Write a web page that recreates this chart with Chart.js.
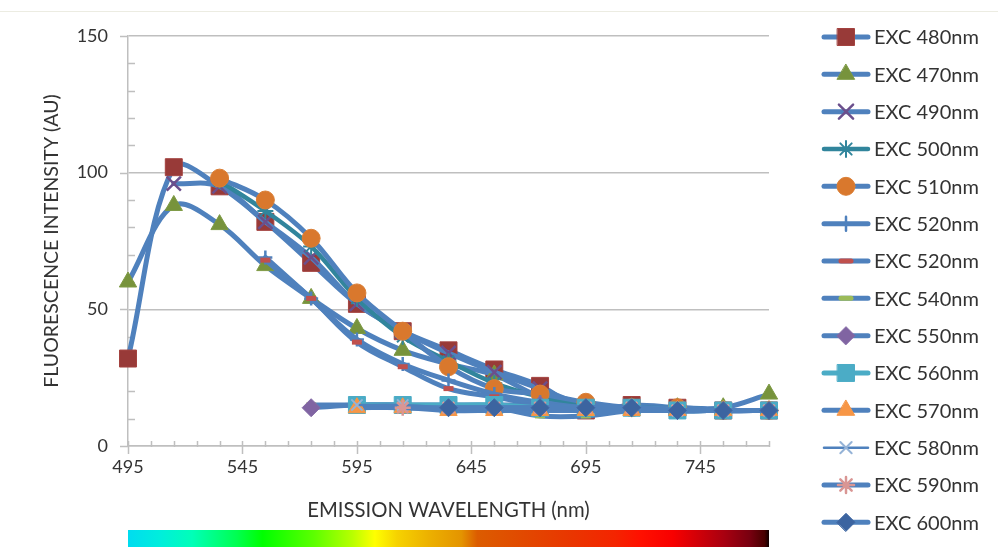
<!DOCTYPE html>
<html><head><meta charset="utf-8">
<script src="https://cdn.jsdelivr.net/npm/chart.js@4.4.1/dist/chart.umd.min.js"></script>
<style>html,body{margin:0;padding:0;background:#fff;}</style>
</head><body>
<canvas id="c" width="998" height="548"></canvas>
<script>
// ---- data ----
const emission = [495,515,535,555,575,595,615,635,655,675,695,715,735,755,775];
const exc480  = [32,102,95,82,67,52,42,35,28,22,13,15,14,13,13];
const exc470  = [60,88,81,66,54,43,35,30,26,18,14,14,14,14,19];
const exc490  = [null,96,95,82,69,52,42,34,27,21,15,14,14,13,13];
const exc500  = [null,null,97,86,73,54,40,31,23,18,15,14,14,13,13];
const exc510  = [null,null,98,90,76,56,42,29,21,19,16,14,14,13,13];
const exc520a = [null,null,null,69,54,39,30,24,19,16,14,14,13,13,13];
const exc520b = [null,null,null,68,54,38,29,21,18,15,14,14,13,13,13];
const exc540  = [null,null,null,null,15,15,15,14,14,11,11,13,13,13,13];
const exc550  = [null,null,null,null,14,15,15,15,15,15,14,14,13,13,13];
const exc560  = [null,null,null,null,null,15,15,15,15,14,14,14,13,13,13];
const exc570  = [null,null,null,null,null,14,14,13,13,13,13,13,13,13,13];
const exc580  = [null,null,null,null,null,15,15,14,14,14,14,14,13,13,13];
const exc590  = [null,null,null,null,null,null,14,14,14,14,14,14,13,13,13];
const exc600  = [null,null,null,null,null,null,null,14,14,14,14,14,13,13,13];
const seriesLabels = ['EXC 480nm','EXC 470nm','EXC 490nm','EXC 500nm','EXC 510nm','EXC 520nm','EXC 520nm',
  'EXC 540nm','EXC 550nm','EXC 560nm','EXC 570nm','EXC 580nm','EXC 590nm','EXC 600nm'];
const seriesValues = [exc480,exc470,exc490,exc500,exc510,exc520a,exc520b,exc540,exc550,exc560,exc570,exc580,exc590,exc600];
const xTickLabels = [495,545,595,645,695,745];
const yTickLabels = [0,50,100,150];
const xTitle = 'EMISSION WAVELENGTH (nm)';
const yTitle = 'FLUORESCENCE INTENSITY (AU)';

// ---- styles ----
const BLUE = '#4F81BD';
const styles = [
  {line:BLUE, lw:5, ps:'rect', r:12, fill:'#983A38', stroke:'#A3423F', bw:1},
  {line:BLUE, lw:5, ps:'triangle', r:10, fill:'#77933C', stroke:'#7E9A44', bw:1},
  {line:BLUE, lw:5, ps:'crossRot', r:10, fill:'#6B4F8C', stroke:'#6B4F8C', bw:2.5},
  {line:'#31859C', lw:4.5, ps:'star', r:8, fill:'#31859C', stroke:'#31859C', bw:2},
  {line:BLUE, lw:5, ps:'circle', r:9, fill:'#D9782D', stroke:'#DB7F36', bw:1},
  {line:BLUE, lw:5, ps:'cross', r:7, fill:BLUE, stroke:BLUE, bw:2.5},
  {line:BLUE, lw:5, ps:'line', r:5, fill:'#C0504D', stroke:'#C0504D', bw:5},
  {line:BLUE, lw:5, ps:'line', r:5, fill:'#9BBB59', stroke:'#9BBB59', bw:5},
  {line:BLUE, lw:5, ps:'rectRot', r:9, fill:'#8064A2', stroke:'#8469A6', bw:1},
  {line:'#4BACC6', lw:5, ps:'rect', r:12, fill:'#4BACC6', stroke:'#4BACC6', bw:1},
  {line:BLUE, lw:5, ps:'triangle', r:10, fill:'#F79646', stroke:'#F79646', bw:1},
  {line:BLUE, lw:2.5, ps:'crossRot', r:8, fill:'#95B3D7', stroke:'#95B3D7', bw:2},
  {line:BLUE, lw:5, ps:'star', r:8, fill:'#D99694', stroke:'#D99694', bw:2.5},
  {line:BLUE, lw:5, ps:'rectRot', r:9, fill:'#3C64A0', stroke:'#4068A4', bw:1}
];

const datasets = seriesValues.map((vals, i) => {
  const s = styles[i];
  return {
    label: seriesLabels[i],
    data: emission.map((x, k) => ({x, y: vals[k]})).filter(p => p.y !== null),
    showLine: true,
    tension: 0.35,
    borderColor: s.line,
    borderWidth: s.lw,
    borderCapStyle: 'round',
    borderJoinStyle: 'round',
    pointStyle: s.ps,
    pointRadius: s.r,
    pointBackgroundColor: s.fill,
    pointBorderColor: s.stroke,
    pointBorderWidth: s.bw,
    order: -i,
    clip: false
  };
});

const FONT = 'Lato';
const TXT = '#333333';
const AXIS = '#BFBFBF';

const bgPlugin = {
  id: 'bg',
  beforeDraw(chart) {
    const {ctx, width} = chart;
    ctx.save();
    ctx.fillStyle = '#fff';
    ctx.fillRect(0, 0, chart.width, chart.height);
    ctx.strokeStyle = '#ECECE2';
    ctx.lineWidth = 1;
    ctx.beginPath(); ctx.moveTo(0, 11.5); ctx.lineTo(width, 11.5); ctx.stroke();
    ctx.restore();
  }
};

const tickPlugin = {
  id: 'minorTicks',
  beforeDatasetsDraw(chart) {
    const {ctx, chartArea: a, scales: {x, y}} = chart;
    ctx.save();
    ctx.strokeStyle = AXIS; ctx.lineWidth = 1.5;
    ctx.beginPath();
    for (let v = x.min; v <= x.max + 0.01; v += 10) {
      const px = Math.round(x.getPixelForValue(v)) + 0.5;
      const major = xTickLabels.includes(v);
      ctx.moveTo(px, a.bottom - 5); ctx.lineTo(px, a.bottom + (major ? 8 : 1));
    }
    for (let v = y.min; v <= y.max + 0.01; v += 10) {
      const py = Math.round(y.getPixelForValue(v)) + 0.5;
      if (yTickLabels.includes(v)) { ctx.moveTo(a.left - 8, py); ctx.lineTo(a.left, py); }
      else { ctx.moveTo(a.left, py); ctx.lineTo(a.left + 7, py); }
    }
    ctx.stroke();
    ctx.restore();
  }
};

const spectrumPlugin = {
  id: 'spectrum',
  afterDraw(chart) {
    const {ctx, scales: {x}} = chart;
    const x0 = x.getPixelForValue(emission[0]);
    const x1 = x.getPixelForValue(emission[emission.length - 1]);
    const g = ctx.createLinearGradient(x0, 0, x1, 0);
    const stops = [[0,'#00DCF0'],[0.05,'#00EEDC'],[0.10,'#00FFB8'],[0.17,'#00FF50'],[0.21,'#00FF00'],
      [0.29,'#5CFF00'],[0.35,'#B8FF00'],[0.385,'#FFFF00'],[0.42,'#F6D200'],[0.47,'#ECB000'],[0.52,'#E49400'],
      [0.545,'#DC5C00'],[0.62,'#E24800'],[0.69,'#E93600'],[0.76,'#F42400'],[0.80,'#FF1000'],[0.85,'#F80000'],
      [0.89,'#D00008'],[0.93,'#A80010'],[0.97,'#780010'],[0.993,'#480000'],[1,'#100000']];
    stops.forEach(([o, c]) => g.addColorStop(o, c));
    ctx.save();
    ctx.fillStyle = g;
    ctx.fillRect(x0, 530, x1 - x0, 17);
    ctx.restore();
  }
};

const legendPlugin = {
  id: 'sideLegend',
  afterDraw(chart) {
    const {ctx} = chart;
    ctx.save();
    ctx.font = '20px ' + FONT;
    ctx.fillStyle = TXT;
    ctx.textBaseline = 'middle';
    ctx.textAlign = 'left';
    chart.data.datasets.forEach((ds, i) => {
      const s = styles[i];
      const cy = 37 + i * 37.33;
      ctx.save();
      ctx.strokeStyle = s.line; ctx.lineWidth = s.lw; ctx.lineCap = 'round';
      ctx.beginPath(); ctx.moveTo(824, cy); ctx.lineTo(868, cy); ctx.stroke();
      ctx.fillStyle = s.fill; ctx.strokeStyle = s.stroke; ctx.lineWidth = s.bw;
      Chart.helpers.drawPoint(ctx, {pointStyle: s.ps, radius: s.r, rotation: 0, borderWidth: s.bw}, 846, cy);
      ctx.restore();
      ctx.fillText(ds.label, 874, cy + 1);
    });
    ctx.restore();
  }
};

new Chart(document.getElementById('c'), {
  type: 'scatter',
  data: {datasets},
  plugins: [bgPlugin, tickPlugin, spectrumPlugin, legendPlugin],
  options: {
    responsive: false,
    animation: false,
    devicePixelRatio: 1,
    layout: {padding: {left: 0, right: 229, top: 36, bottom: 25}},
    plugins: {legend: {display: false}, tooltip: {enabled: false}},
    scales: {
      x: {
        type: 'linear', min: emission[0], max: emission[emission.length - 1],
        afterBuildTicks: s => { s.ticks = xTickLabels.map(v => ({value: v})); },
        afterFit: s => { s.height = 77; },
        grid: {display: false, drawTicks: false},
        border: {display: true, color: AXIS, width: 1.5},
        ticks: {font: {family: FONT, size: 18}, color: TXT, padding: 10, maxRotation: 0, autoSkip: false},
        title: {display: true, text: xTitle, font: {family: FONT, size: 20.3}, color: TXT, padding: {top: 0, bottom: 0}}
      },
      y: {
        type: 'linear', min: yTickLabels[0], max: yTickLabels[yTickLabels.length - 1],
        afterBuildTicks: s => { s.ticks = yTickLabels.map(v => ({value: v})); },
        afterFit: s => { s.width = 128; },
        grid: {color: AXIS, lineWidth: 1.5, drawTicks: false},
        border: {display: true, color: AXIS, width: 1.5},
        ticks: {font: {family: FONT, size: 18}, color: TXT, padding: 20},
        title: {display: true, text: yTitle, font: {family: FONT, size: 19.5}, color: TXT, padding: {top: 40, bottom: 0}}
      }
    }
  }
});
</script>
</body></html>
